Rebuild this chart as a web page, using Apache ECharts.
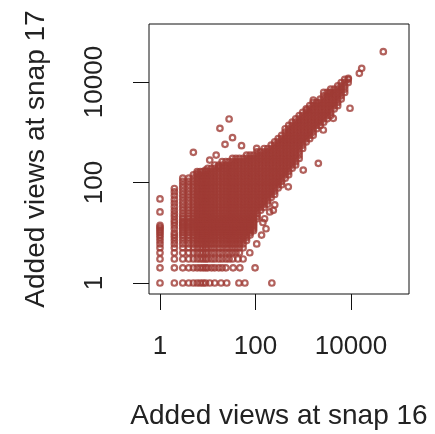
<!DOCTYPE html>
<html><head><meta charset="utf-8">
<script src="https://cdn.jsdelivr.net/npm/echarts@6/dist/echarts.min.js"></script>
<style>html,body{margin:0;padding:0;background:#fff}#c{width:435px;height:434px}#c canvas{filter:blur(0.45px)}</style>
</head><body><div id="c"></div>
<script>
const xTitle = 'Added views at snap 16';
const yTitle = 'Added views at snap 17';
const xTicks = [1, 100, 10000];
const yTicks = [1, 100, 10000];

// dense cloud: [views at snap 17, [views at snap 16 ...]]
const denseRows = [
  [2, [3,4,5,6,7,8,9,10,12,14,17,20,24]],
  [3, [3,4,5,6,7,8,9,10,12,14,17,20,24,28,33]],
  [4, [3,4,5,6,7,8,9,10,12,14,17,20,24,28,33,39,46]],
  [5, [3,4,5,6,7,8,9,10,12,14,17,20,24,28,33,39,46,55]],
  [6, [3,4,5,6,7,8,9,10,12,14,17,20,24,28,33,39,46,55]],
  [7, [3,4,5,6,7,8,9,10,12,14,17,20,24,28,33,39,46,55,65]],
  [8, [3,4,5,6,7,8,9,10,12,14,17,20,24,28,33,39,46,55,65]],
  [9, [3,4,5,6,7,8,9,10,12,14,17,20,24,28,33,39,46,55,65,77]],
  [10, [3,4,5,6,7,8,9,10,12,14,17,20,24,28,33,39,46,55,65,77]],
  [11, [3,4,5,6,7,8,9,10,12,14,17,20,24,28,33,39,46,55,65,77,91]],
  [12, [3,4,5,6,7,8,9,10,12,14,17,20,24,28,33,39,46,55,65,77,91]],
  [13, [3,4,5,6,7,8,9,10,12,14,17,20,24,28,33,39,46,55,65,77,91]],
  [14, [3,4,5,6,7,8,9,10,12,14,17,20,24,28,33,39,46,55,65,77,91]],
  [15, [3,4,5,6,7,8,9,10,12,14,17,20,24,28,33,39,46,55,65,77,91]],
  [16, [3,4,5,6,7,8,9,10,12,14,17,20,24,28,33,39,46,55,65,77,91]],
  [17, [3,4,5,6,7,8,9,10,12,14,17,20,24,28,33,39,46,55,65,77,91]],
  [19, [3,4,5,6,7,8,9,10,12,14,17,20,24,28,33,39,46,55,65,77,91,108]],
  [21, [3,4,5,6,7,8,9,10,12,14,17,20,24,28,33,39,46,55,65,77,91,108]],
  [24, [3,4,5,6,7,8,9,10,12,14,17,20,24,28,33,39,46,55,65,77,91,108]],
  [28, [3,4,5,6,7,8,9,10,12,14,17,20,24,28,33,39,46,55,65,77,91,108,128]],
  [32, [3,4,5,6,7,8,9,10,12,14,17,20,24,28,33,39,46,55,65,77,91,108,128,152]],
  [37, [3,4,5,6,7,8,9,10,12,14,17,20,24,28,33,39,46,55,65,77,91,108,128,152,180]],
  [43, [3,4,5,6,7,8,9,10,12,14,17,20,24,28,33,39,46,55,65,77,91,108,128,152,180]],
  [50, [3,4,5,6,7,8,9,10,12,14,17,20,24,28,33,39,46,55,65,77,91,108,128,152,180,213]],
  [58, [3,4,5,6,7,8,9,10,12,14,17,20,24,28,33,39,46,55,65,77,91,108,128,152,180,213,252]],
  [67, [3,4,5,6,7,8,9,10,12,14,17,20,24,28,33,39,46,55,65,77,91,108,128,152,180,213,252]],
  [78, [3,4,5,6,7,8,9,10,12,14,17,20,24,28,33,39,46,55,65,77,91,108,128,152,180,213,252,298]],
  [90, [3,4,5,6,7,8,9,10,12,14,17,20,24,28,33,39,46,55,65,77,91,108,128,152,180,213,252,298,353]],
  [105, [3,4,5,6,7,8,9,10,12,14,17,20,24,28,33,39,46,55,65,77,91,108,128,152,180,213,252,298,353]],
  [122, [3,4,5,6,7,8,9,10,12,14,17,20,24,28,33,39,46,55,65,77,91,108,128,152,180,213,252,298,353,418]],
  [142, [5,6,7,8,9,10,12,14,17,20,24,28,33,39,46,55,65,77,91,108,128,152,180,213,252,298,353,418,495]],
  [165, [6,7,8,9,10,12,14,17,20,24,28,33,39,46,55,65,77,91,108,128,152,180,213,252,298,353,418,495]],
  [192, [10,12,14,17,20,24,28,33,39,46,55,65,77,91,108,128,152,180,213,252,298,353,418,495,586]],
  [223, [14,17,20,24,28,33,39,46,55,65,77,91,108,128,152,180,213,252,298,353,418,495,586,694]],
  [260, [20,24,28,33,39,46,55,65,77,91,108,128,152,180,213,252,298,353,418,495,586,694]],
  [302, [33,39,46,55,65,77,91,108,128,152,180,213,252,298,353,418,495,586,694,822]],
  [351, [65,77,91,108,128,152,180,213,252,298,353,418,495,586,694,822]],
  [408, [108,128,152,180,213,252,298,353,418,495,586,694,822]],
  [475, [152,180,213,252,298,353,418,495,586,694,822,973]],
  [552, [213,252,298,353,418,495,586,694,822,973]],
  [642, [252,298,353,418,495,586,694,822,973,1152]],
  [746, [298,353,418,495,586,694,822,973,1152,1364]],
  [868, [353,418,495,586,694,822,973,1152,1364,1615]],
  [1010, [418,495,586,694,822,973,1152,1364,1615]],
  [1175, [418,495,586,694,822,973,1152,1364,1615,1912]],
  [1366, [495,586,694,822,973,1152,1364,1615,1912,2264]],
  [1590, [586,694,822,973,1152,1364,1615,1912,2264,2680]],
  [1850, [694,822,973,1152,1364,1615,1912,2264,2680,3173]],
  [2150, [822,973,1152,1364,1615,1912,2264,2680,3173,3757]],
  [2500, [973,1152,1364,1615,1912,2264,2680,3173,3757]],
  [2910, [1152,1364,1615,1912,2264,2680,3173,3757,4448]],
  [3380, [1364,1615,1912,2264,2680,3173,3757,4448,5266]],
  [3930, [1615,1912,2264,2680,3173,3757,4448,5266]],
  [4570, [2264,2680,3173,3757,4448,5266,6235]],
  [5320, [2680,3173,3757,4448,5266,6235]],
  [6190, [2680,3173,3757,4448,5266,6235,7382]],
  [7200, [3757,4448,5266,6235,7382]],
  [8370, [5266,6235,7382]],
  [9740, [6235,7382,8740]],
  [11300, [7382,8740]]
];
// points with 1 view at snap 17
const bottomRowX = [1,2,3,4,5,6,7,8,9,11,14,19,25,45,60,220];
// points with 1 and 2 views at snap 16
const colX1Y = [2,3,4,5,6,7,8,9,10,11,12,13,14,26,47];
const colX2Y = [2,3,4,5,6,7,8,9,10,12,14,16,18,21,24,28,33,39,46,55,65,76];
// scattered points along the cloud edges
const edgePoints = [[34,2],[47,2],[98,2],[43,3],[55,3],[76,4],[106,6],[134,9],[166,12],[143,16],[155,19],[198,26],[236,28],[253,36],[6,152],[9,177],[17,206]];
// isolated outliers
const outliers = [[47500,40100],[16750,18750],[14950,14900],[8790,11850],[9530,3000],[4260,1893],[2630,1108],[3515,6120],[1623,4385],[1180,2770],[28,1836],[18,1199],[33,780],[23,575],[51,540],[5,399],[106,479],[15,352],[11,280],[1000,177],[2070,241],[486,82]];

const points = [];
denseRows.forEach(r => r[1].forEach(x => points.push([x, r[0]])));
bottomRowX.forEach(x => points.push([x, 1]));
colX1Y.forEach(y => points.push([1, y]));
colX2Y.forEach(y => points.push([2, y]));
edgePoints.forEach(p => points.push(p));
outliers.forEach(p => points.push(p));

const font = 'Liberation Sans, Arial, Helvetica, sans-serif';
const chart = echarts.init(document.getElementById('c'), null, {renderer: 'canvas'});
chart.setOption({
  animation: false,
  backgroundColor: '#fff',
  grid: {left: 149, top: 24, width: 260, height: 270, show: true, borderColor: '#111', borderWidth: 1, containLabel: false, outerBoundsMode: 'none'},
  xAxis: {
    type: 'log', logBase: 10, min: 0.5885, max: 163900,
    axisLine: {show: false}, splitLine: {show: false}, minorTick: {show: false},
    axisTick: {show: true, length: 16, lineStyle: {color: '#111', width: 1}, customValues: xTicks},
    axisLabel: {customValues: xTicks, fontSize: 26, color: '#222', margin: 40, fontFamily: font, formatter: v => String(Math.round(v))},
    name: xTitle, nameLocation: 'middle', nameGap: 108,
    nameTextStyle: {fontSize: 28, color: '#222', fontFamily: font}
  },
  yAxis: {
    type: 'log', logBase: 10, min: 0.604, max: 142600,
    axisLine: {show: false}, splitLine: {show: false}, minorTick: {show: false},
    axisTick: {show: true, length: 16, lineStyle: {color: '#111', width: 1}, customValues: yTicks},
    axisLabel: {customValues: yTicks, rotate: 90, fontSize: 26, color: '#222', margin: 41, fontFamily: font, formatter: v => String(Math.round(v))},
    name: yTitle, nameLocation: 'middle', nameGap: 99,
    nameTextStyle: {fontSize: 28, color: '#222', fontFamily: font}
  },
  series: [{
    type: 'scatter', data: points, symbol: 'circle', symbolSize: 5.5, silent: true,
    progressive: 0, large: false,
    itemStyle: {color: 'rgba(0,0,0,0)', borderColor: '#9f3b35', borderWidth: 2.2}
  }]
});
</script></body></html>
